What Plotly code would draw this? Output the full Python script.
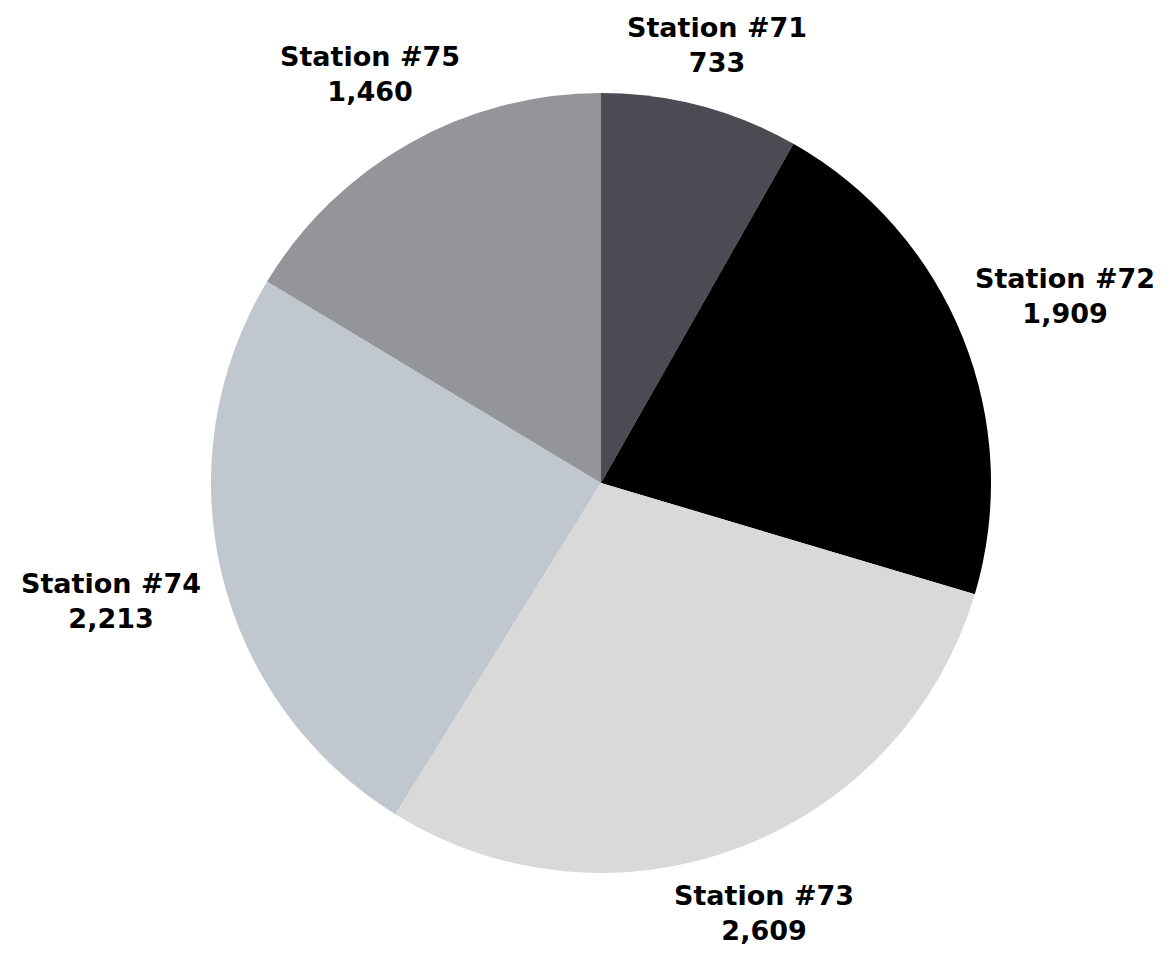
import math
import plotly.graph_objects as go

stations = ["Station #71", "Station #72", "Station #73", "Station #74", "Station #75"]
values = [733, 1909, 2609, 2213, 1460]
colors = ["#4b4b53", "#000000", "#d9d9d9", "#c1c7cf", "#949599"]

W, H = 1168, 955
ML, MR, MT, MB = 26, 8, 85, 90
PW, PH = W - ML - MR, H - MT - MB
R = min(PW, PH) / 2.0
CX, CY = ML + PW / 2.0, MT + PH / 2.0

fig = go.Figure(go.Pie(
    labels=stations,
    values=values,
    sort=False,
    direction="clockwise",
    rotation=0,
    marker=dict(colors=colors, line=dict(width=0)),
    textinfo="none",
    automargin=False,
    showlegend=False,
    hoverinfo="label+value",
))

# Labels placed radially outside each slice at its mid angle
total = float(sum(values))
cum = 0.0
annotations = []
for name, v in zip(stations, values):
    mid = (cum + v / 2.0) / total * 2 * math.pi
    cum += v
    s, c = math.sin(mid), math.cos(mid)
    d = R * (1.115 + 0.182 * abs(s))
    px = CX + d * s
    py = CY - d * c
    annotations.append(dict(
        x=(px - ML) / PW, y=1 - (py - MT) / PH,
        xref="paper", yref="paper",
        xanchor="center", yanchor="middle",
        text=f"{name}<br>{v:,}",
        showarrow=False,
        align="center",
        font=dict(family="DejaVu Sans", size=27, color="#000000", weight="bold"),
    ))

fig.update_layout(
    width=W, height=H,
    margin=dict(l=ML, r=MR, t=MT, b=MB),
    paper_bgcolor="white", plot_bgcolor="white",
    annotations=annotations,
)
fig.write_html("out.html")
